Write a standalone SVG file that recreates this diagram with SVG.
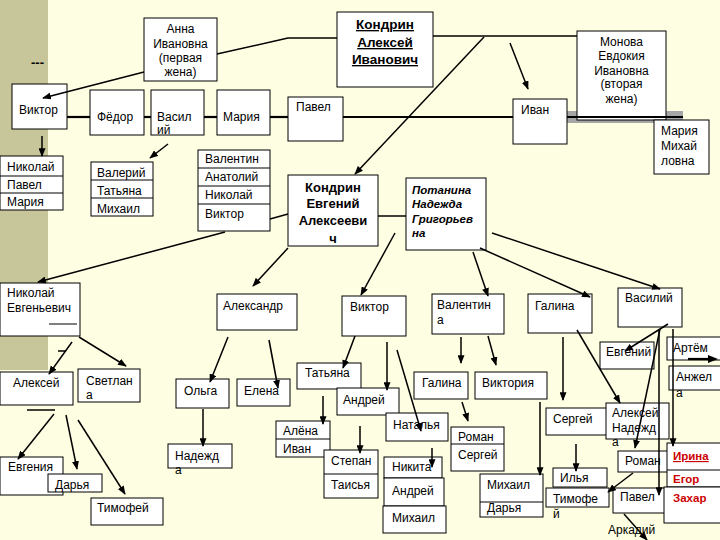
<svg xmlns="http://www.w3.org/2000/svg" width="720" height="540" viewBox="0 0 720 540">
<style>
.b{fill:#fff;stroke:#000;stroke-width:1}
.t{font-family:"Liberation Sans",Arial,sans-serif;font-size:12px;fill:#000}
.c{text-anchor:middle}
.kb{font-family:"Liberation Sans",Arial,sans-serif;font-size:13.5px;font-weight:bold;text-decoration:underline;text-anchor:middle}
.eb{font-family:"Liberation Sans",Arial,sans-serif;font-size:13px;font-weight:bold;text-anchor:middle}
.pi{font-family:"Liberation Sans",Arial,sans-serif;font-size:11.5px;font-weight:bold;font-style:italic}
.r{font-family:"Liberation Sans",Arial,sans-serif;font-size:11.5px;font-weight:bold;fill:#CC0000}
.l{stroke:#000;stroke-width:1.5;fill:none}
.s{stroke:#000;stroke-width:2.2;fill:none}
.a{stroke:#000;stroke-width:1.5;fill:none;marker-end:url(#ah)}
</style>
<defs>
<marker id="ah" viewBox="0 0 10 8" refX="9" refY="4" markerWidth="9" markerHeight="7" markerUnits="userSpaceOnUse" orient="auto">
<path d="M0,0 L10,4 L0,8 z" fill="#000"/>
</marker>
</defs>
<rect x="0" y="0" width="720" height="540" fill="#FEFEE2"/>
<rect x="0" y="0" width="48" height="370" fill="#C6C69A"/>
<text x="31" y="67" class="t" style="font-weight:bold;font-size:13px">---</text>
<rect x="567" y="111" width="116" height="12" fill="#A6A6A6"/>

<g id="anna"><rect class="b" x="144" y="18" width="73" height="63"/>
<text class="t c" x="180.5" y="33">Анна</text><text class="t c" x="180.5" y="48">Ивановна</text><text class="t c" x="180.5" y="62">(первая</text><text class="t c" x="180.5" y="76">жена)</text></g>
<g id="kondrin-a"><rect class="b" x="337" y="12" width="96" height="75"/>
<text class="kb" x="385" y="29">Кондрин</text><text class="kb" x="385" y="47">Алексей</text><text class="kb" x="385" y="64">Иванович</text></g>
<g id="monova"><rect class="b" x="577" y="31" width="89" height="89"/>
<text class="t c" x="621.5" y="46">Монова</text><text class="t c" x="621.5" y="60">Евдокия</text><text class="t c" x="621.5" y="75">Ивановна</text><text class="t c" x="621.5" y="88">(вторая</text><text class="t c" x="621.5" y="103">жена)</text></g>
<g id="viktor1"><rect class="b" x="12" y="84" width="55" height="45"/><text class="t" x="19" y="114">Виктор</text></g>
<g id="fedor"><rect class="b" x="90" y="90" width="54" height="45"/><text class="t" x="97" y="121">Фёдор</text></g>
<g id="vasiliy1"><rect class="b" x="151" y="90" width="53" height="45"/><text class="t" x="157" y="121">Васил</text><text class="t" x="157" y="134">ий</text></g>
<g id="mariya1"><rect class="b" x="217" y="90" width="53" height="45"/><text class="t" x="223" y="121">Мария</text></g>
<g id="pavel1"><rect class="b" x="288" y="97" width="55" height="44"/><text class="t" x="296" y="111">Павел</text></g>
<g id="ivan1"><rect class="b" x="513" y="99" width="54" height="45"/><text class="t" x="521" y="114">Иван</text></g>
<g id="mariya-m"><rect class="b" x="654" y="120" width="55" height="54"/><text class="t" x="661" y="135">Мария</text><text class="t" x="661" y="150">Михай</text><text class="t" x="661" y="165">ловна</text></g>
<g id="list-nikolay"><rect class="b" x="0" y="156" width="63" height="54"/><line class="b" x1="0" y1="176" x2="63" y2="176"/><line class="b" x1="0" y1="193" x2="63" y2="193"/>
<text class="t" x="7" y="171">Николай</text><text class="t" x="7" y="189">Павел</text><text class="t" x="7" y="206">Мария</text></g>
<g id="list-valeriy"><rect class="b" x="91" y="162" width="62" height="54"/><line class="b" x1="91" y1="180" x2="153" y2="180"/><line class="b" x1="91" y1="198" x2="153" y2="198"/>
<text class="t" x="97" y="177">Валерий</text><text class="t" x="97" y="195">Татьяна</text><text class="t" x="97" y="213">Михаил</text></g>
<g id="list-valentin"><rect class="b" x="198" y="150" width="72" height="81"/><line class="b" x1="198" y1="168" x2="270" y2="168"/><line class="b" x1="198" y1="186" x2="270" y2="186"/><line class="b" x1="198" y1="204" x2="270" y2="204"/>
<text class="t" x="205" y="163">Валентин</text><text class="t" x="205" y="181">Анатолий</text><text class="t" x="205" y="199">Николай</text><text class="t" x="205" y="218">Виктор</text></g>
<g id="kondrin-e"><rect class="b" x="288" y="175" width="90" height="71"/>
<text class="eb" x="333" y="192">Кондрин</text><text class="eb" x="333" y="208">Евгений</text><text class="eb" x="333" y="225">Алексееви</text><text class="eb" x="333" y="243">ч</text></g>
<g id="potanina"><rect class="b" x="406" y="178" width="80" height="72"/>
<text class="pi" x="412" y="194">Потанина</text><text class="pi" x="412" y="208">Надежда</text><text class="pi" x="412" y="223">Григорьев</text><text class="pi" x="412" y="237">на</text></g>
<g id="nikolay-e"><rect class="b" x="0" y="283" width="80" height="53"/><text class="t" x="7" y="297">Николай</text><text class="t" x="7" y="312">Евгеньевич</text><line class="b" x1="49" y1="324" x2="77" y2="324"/></g>
<g id="aleksandr"><rect class="b" x="217" y="294" width="80" height="36"/><text class="t" x="223" y="310">Александр</text></g>
<g id="viktor2"><rect class="b" x="342" y="296" width="64" height="40"/><text class="t" x="350" y="311">Виктор</text></g>
<g id="valentina"><rect class="b" x="432" y="294" width="72" height="40"/><text class="t" x="437" y="309">Валентин</text><text class="t" x="437" y="324">а</text></g>
<g id="galina1"><rect class="b" x="528" y="294" width="64" height="39"/><text class="t" x="535" y="310">Галина</text></g>
<g id="vasiliy2"><rect class="b" x="618" y="288" width="64" height="39"/><text class="t" x="625" y="302">Василий</text></g>
<g id="evgeniy"><rect class="b" x="600" y="342" width="54" height="27"/><text class="t" x="606" y="356">Евгений</text></g>
<g id="artem"><rect class="b" x="667" y="337" width="56" height="23"/><text class="t" x="673" y="352">Артём</text></g>
<g id="anzhela"><rect class="b" x="669" y="366" width="54" height="24"/><text class="t" x="676" y="381">Анжел</text><text class="t" x="676" y="397">а</text></g>
<g id="aleksey1"><rect class="b" x="0" y="372" width="73" height="33"/><text class="t" x="13" y="387">Алексей</text></g>
<g id="svetlana"><rect class="b" x="78" y="369" width="62" height="33"/><text class="t" x="86" y="385">Светлан</text><text class="t" x="86" y="399">а</text></g>
<g id="evgeniya"><rect class="b" x="0" y="457" width="63" height="38"/><text class="t" x="8" y="471">Евгения</text></g>
<g id="darya1"><rect class="b" x="48" y="474" width="54" height="18"/><text class="t" x="55" y="489">Дарья</text></g>
<g id="timofey1"><rect class="b" x="91" y="498" width="72" height="27"/><text class="t" x="97" y="512">Тимофей</text></g>
<g id="olga"><rect class="b" x="176" y="379" width="53" height="29"/><text class="t" x="184" y="395">Ольга</text></g>
<g id="elena"><rect class="b" x="237" y="379" width="53" height="27"/><text class="t" x="244" y="395">Елена</text></g>
<g id="nadezhda"><rect class="b" x="168" y="444" width="64" height="24"/><text class="t" x="175" y="460">Надежд</text><text class="t" x="175" y="474">а</text></g>
<g id="tatyana"><rect class="b" x="297" y="363" width="64" height="26"/><text class="t" x="305" y="377">Татьяна</text></g>
<g id="andrey1"><rect class="b" x="337" y="388" width="62" height="27"/><text class="t" x="343" y="404">Андрей</text></g>
<g id="natalya"><rect class="b" x="386" y="413" width="62" height="28"/><text class="t" x="393" y="429">Наталья</text></g>
<g id="alena-ivan"><rect class="b" x="276" y="421" width="54" height="36"/><line class="b" x1="276" y1="439" x2="330" y2="439"/><text class="t" x="283" y="435">Алёна</text><text class="t" x="283" y="453">Иван</text></g>
<g id="stepan-taisya"><rect class="b" x="324" y="450" width="54" height="48"/><line class="b" x1="324" y1="474" x2="378" y2="474"/><text class="t" x="331" y="465">Степан</text><text class="t" x="331" y="489">Таисья</text></g>
<g id="nikita"><rect class="b" x="384" y="457" width="58" height="21"/><text class="t" x="392" y="471">Никита</text></g>
<g id="andrey2"><rect class="b" x="384" y="478" width="60" height="28"/><text class="t" x="392" y="495">Андрей</text></g>
<g id="mikhail1"><rect class="b" x="383" y="506" width="63" height="27"/><text class="t" x="392" y="522">Михаил</text></g>
<g id="galina2"><rect class="b" x="414" y="372" width="54" height="27"/><text class="t" x="422" y="387">Галина</text></g>
<g id="viktoriya"><rect class="b" x="475" y="372" width="72" height="27"/><text class="t" x="482" y="387">Виктория</text></g>
<g id="roman-sergey"><rect class="b" x="451" y="427" width="53" height="44"/><line class="b" x1="451" y1="444" x2="504" y2="444"/><text class="t" x="458" y="441">Роман</text><text class="t" x="458" y="459">Сергей</text></g>
<g id="mikhail-darya"><rect class="b" x="480" y="474" width="63" height="43"/><line class="b" x1="480" y1="502" x2="543" y2="502"/><text class="t" x="487" y="489">Михаил</text><text class="t" x="487" y="512">Дарья</text></g>
<g id="sergey"><rect class="b" x="546" y="408" width="63" height="27"/><text class="t" x="553" y="423">Сергей</text></g>
<g id="ilya"><rect class="b" x="553" y="468" width="54" height="19"/><text class="t" x="560" y="482">Илья</text></g>
<g id="timofey2"><rect class="b" x="546" y="488" width="63" height="19"/><text class="t" x="553" y="503">Тимофе</text><text class="t" x="553" y="518">й</text></g>
<g id="aleksey-nadezhda"><rect class="b" x="606" y="403" width="63" height="36"/><text class="t" x="612" y="417">Алексей</text><text class="t" x="612" y="432">Надежд</text><text class="t" x="612" y="446">а</text></g>
<g id="roman2"><rect class="b" x="618" y="451" width="55" height="21"/><text class="t" x="625" y="465">Роман</text></g>
<g id="pavel2"><rect class="b" x="613" y="488" width="53" height="25"/><text class="t" x="620" y="501">Павел</text></g>
<g id="arkadiy"><text class="t" x="608" y="534">Аркадий</text></g>
<g id="irina-egor-zahar"><rect class="b" x="667" y="443" width="56" height="44"/><line class="b" x1="667" y1="470" x2="720" y2="470"/><rect class="b" x="664" y="487" width="59" height="36"/>
<text class="r" x="673" y="460" style="text-decoration:underline">Ирина</text><text class="r" x="673" y="483">Егор</text><text class="r" x="673" y="502">Захар</text></g>

<g id="connectors">
<polyline class="l" points="217,54 288,38 337,38"/>
<line class="l" x1="433" y1="36" x2="577" y2="36"/>
<line class="a" x1="144" y1="72" x2="43" y2="98"/>
<line class="s" x1="67" y1="117" x2="90" y2="117"/>
<line class="s" x1="144" y1="117" x2="151" y2="117"/>
<line class="s" x1="204" y1="117" x2="217" y2="117"/>
<line class="s" x1="270" y1="117" x2="288" y2="117"/>
<line class="s" x1="343" y1="117" x2="513" y2="117"/>
<line class="s" x1="567" y1="117" x2="683" y2="117"/>
<line class="a" x1="510" y1="43" x2="528" y2="89"/>
<line class="a" x1="484" y1="37" x2="355" y2="174"/>
<line class="a" x1="42" y1="136" x2="42" y2="156"/>
<line class="a" x1="168" y1="144" x2="150" y2="158"/>
<line class="l" x1="270" y1="219" x2="288" y2="214"/>
<line class="a" x1="225" y1="232" x2="38" y2="282"/>
<line class="l" x1="378" y1="216" x2="406" y2="216"/>
<line class="a" x1="288" y1="248" x2="253" y2="286"/>
<line class="a" x1="395" y1="233" x2="361" y2="295"/>
<line class="a" x1="473" y1="252" x2="488" y2="296"/>
<line class="a" x1="480" y1="248" x2="590" y2="297"/>
<line class="a" x1="492" y1="233" x2="660" y2="289"/>
<line class="a" x1="79" y1="337" x2="126" y2="366"/>
<line class="a" x1="72" y1="342" x2="49" y2="374"/>
<line class="l" x1="58" y1="351" x2="66" y2="351"/>
<line class="l" x1="27" y1="410" x2="55" y2="410"/>
<line class="a" x1="54" y1="414" x2="18" y2="459"/>
<line class="a" x1="66" y1="415" x2="77" y2="469"/>
<line class="a" x1="78" y1="420" x2="125" y2="494"/>
<line class="a" x1="228" y1="337" x2="210" y2="382"/>
<line class="a" x1="269" y1="340" x2="278" y2="388"/>
<line class="a" x1="203" y1="409" x2="203" y2="446"/>
<line class="a" x1="355" y1="336" x2="343" y2="368"/>
<line class="a" x1="387" y1="342" x2="387" y2="390"/>
<line class="a" x1="397" y1="350" x2="421" y2="431"/>
<line class="a" x1="323" y1="396" x2="323" y2="424"/>
<line class="a" x1="360" y1="426" x2="360" y2="453"/>
<line class="a" x1="432" y1="448" x2="432" y2="467"/>
<line class="a" x1="461" y1="337" x2="461" y2="363"/>
<line class="a" x1="488" y1="336" x2="496" y2="365"/>
<line class="a" x1="462" y1="402" x2="468" y2="421"/>
<line class="a" x1="540" y1="402" x2="540" y2="475"/>
<line class="a" x1="563" y1="337" x2="563" y2="400"/>
<line class="a" x1="577" y1="330" x2="620" y2="403"/>
<line class="a" x1="576" y1="444" x2="576" y2="471"/>
<line class="a" x1="668" y1="324" x2="625" y2="351"/>
<line class="a" x1="660" y1="329" x2="635" y2="448"/>
<line class="a" x1="659" y1="329" x2="659" y2="495"/>
<line class="a" x1="673" y1="329" x2="673" y2="446"/>
<line class="a" x1="633" y1="473" x2="608" y2="492"/>
<line class="a" x1="624" y1="514" x2="647" y2="540"/>
<line class="s" x1="688" y1="359" x2="710" y2="359"/>
<path d="M708,355 L718,359 L708,363 z" fill="#000"/>
</g>
</svg>
